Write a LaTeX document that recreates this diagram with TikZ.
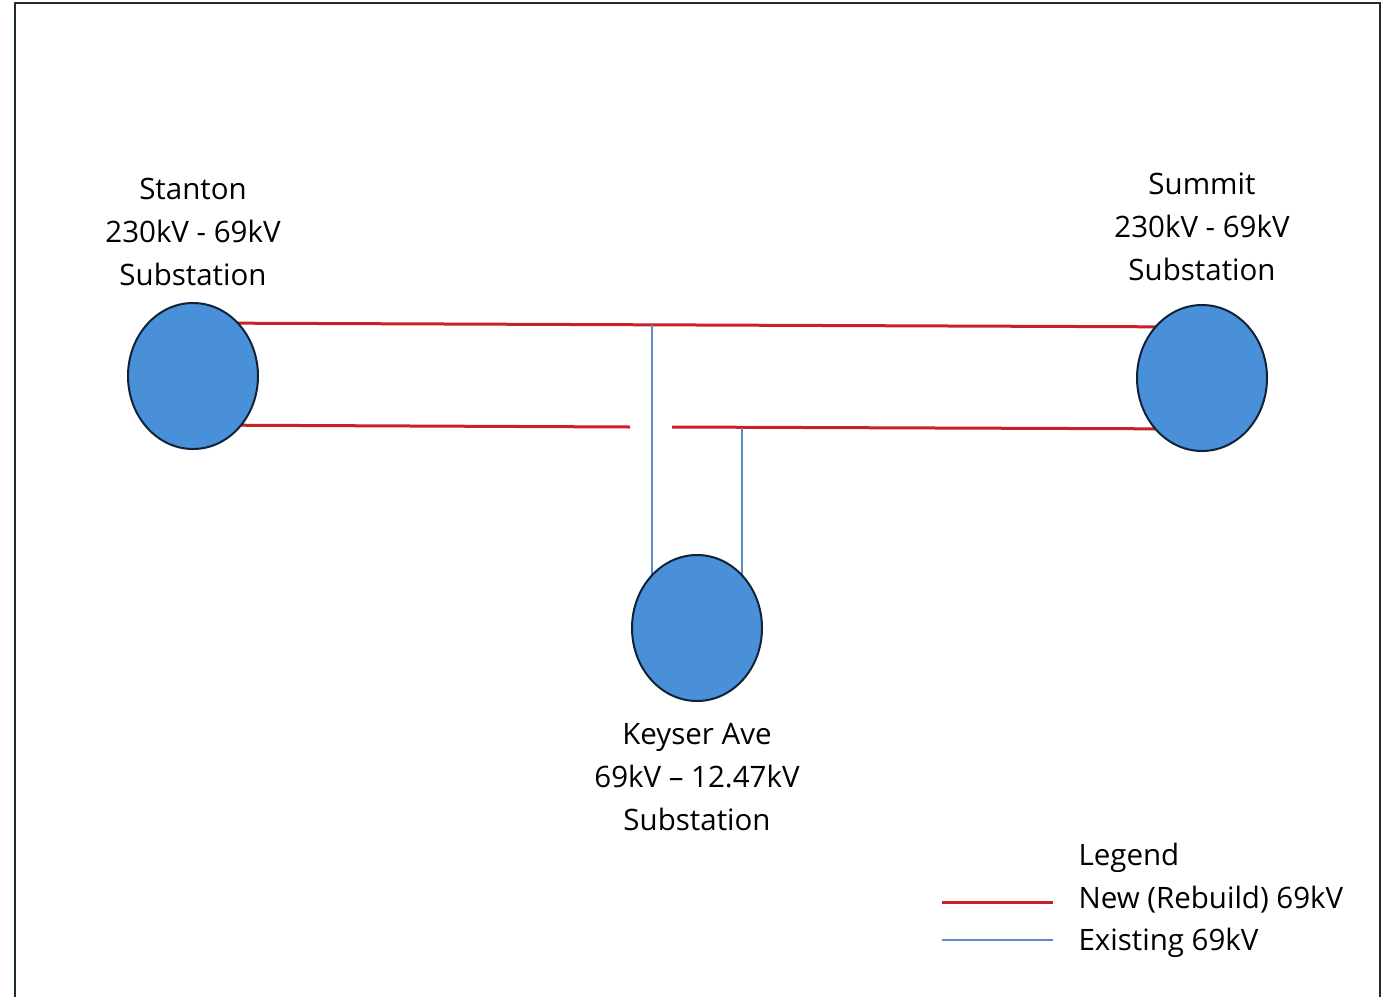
\documentclass[tikz,border=0pt]{standalone}
\usepackage{fontspec}
\setmainfont{Open Sans}
\usetikzlibrary{shapes.geometric}
\pgfdeclarelayer{bg}
\pgfsetlayers{bg,main}
\definecolor{subfill}{RGB}{74,144,217}
\definecolor{subedge}{RGB}{14,34,56}
\definecolor{newred}{RGB}{200,32,42}
\definecolor{oldblue}{RGB}{91,139,200}
\definecolor{framec}{RGB}{30,45,51}
\begin{document}
\begin{tikzpicture}[x=1pt,y=-1pt,
  sub/.style={ellipse,draw=subedge,line width=2pt,fill=subfill,minimum width=130pt,minimum height=146pt,inner sep=0pt},
  lbl/.style={align=center,font=\fontsize{29.5}{43}\selectfont,text=black},
  newline/.style={draw=newred,line width=3pt},
  oldline/.style={draw=oldblue,line width=2.3pt}]
\useasboundingbox (0,0) rectangle (1391,996);
\clip (0,0) rectangle (1391,996);
\draw[framec,line width=2.5pt] (15,3) rectangle (1380,1020);
% substations
\node[sub] (stanton) at (193,376) {};
\node[sub] (summit) at (1202,378) {};
\node[sub] (keyser) at (697,628) {};
% labels
\node[lbl] (stantonlbl) at (193,232) {Stanton\\230kV - 69kV\\Substation};
\node[lbl] (summitlbl) at (1202,227) {Summit\\230kV - 69kV\\Substation};
\node[lbl] (keyserlbl) at (697,777) {Keyser Ave\\69kV -- 12.47kV\\Substation};
% connector coordinates
\coordinate (st1) at (193,323);
\coordinate (su1) at (1202,327);
\coordinate (st2) at (193,425);
\coordinate (gapl) at (630,427);
\coordinate (gapr) at (672,427);
\coordinate (su2) at (1202,429);
\coordinate (j1) at (652,325);
\coordinate (j2) at (742,428);
\begin{pgfonlayer}{bg}
\draw[newline] (st1) -- (su1);
\draw[newline] (st2) -- (gapl);
\draw[newline] (gapr) -- (su2);
\draw[oldline] (j1) -- (j1 |- keyser.center);
\draw[oldline] (j2) -- (j2 |- keyser.center);
\end{pgfonlayer}
% legend
\node[lbl,anchor=west] (legtitle) at (1075,858) {Legend};
\node[lbl,anchor=west] (legnew) at (1075,900) {New (Rebuild) 69kV};
\node[lbl,anchor=west] (legold) at (1075,943) {Existing 69kV};
\coordinate (lr1) at (942,902);
\coordinate (lr2) at (1053,902);
\coordinate (lb1) at (942,940);
\coordinate (lb2) at (1053,940);
\draw[newline] (lr1) -- (lr2);
\draw[oldline] (lb1) -- (lb2);
\end{tikzpicture}
\end{document}
